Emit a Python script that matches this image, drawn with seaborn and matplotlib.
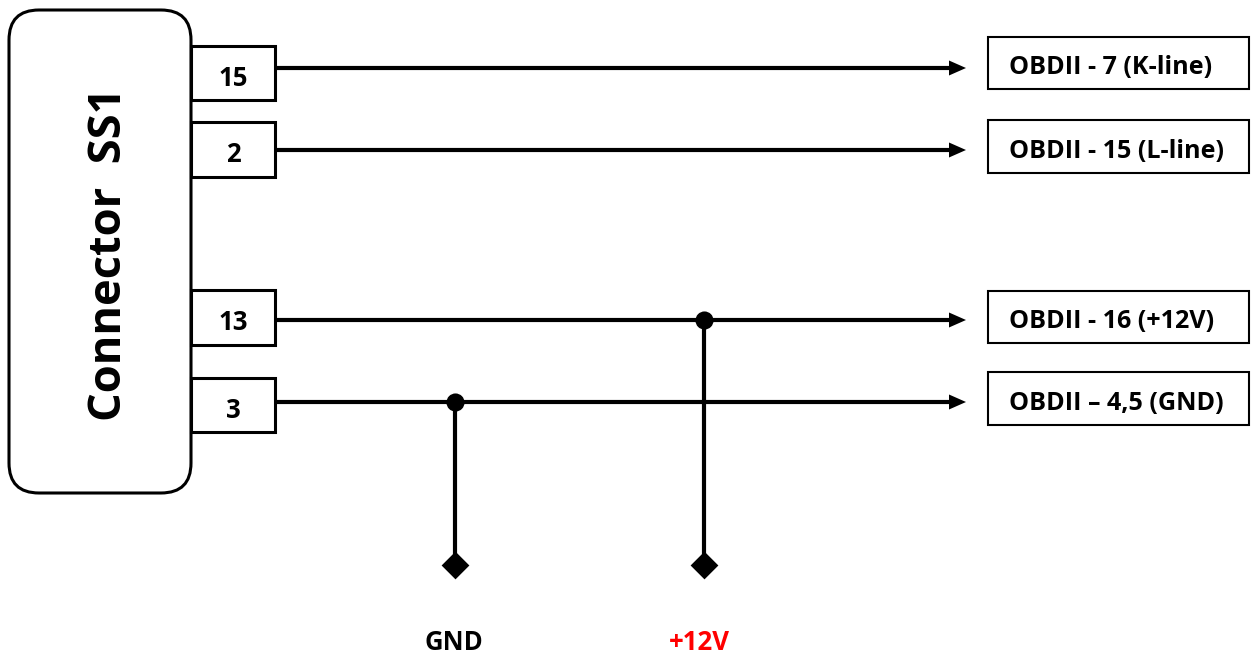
import pandas as pd
import matplotlib
matplotlib.use("Agg")
import matplotlib.pyplot as plt
from matplotlib.patches import FancyBboxPatch, Rectangle, Polygon
import seaborn as sns

# wiring diagram, values are in picture pixels
pin_labels = ["15", "2", "13", "3"]
pin_top = [46, 122, 290, 378]
pin_bottom = [100, 177, 345, 432]
wire_y = [68, 150, 320, 402]

target_labels = ["OBDII - 7 (K-line)", "OBDII - 15 (L-line)", "OBDII - 16 (+12V)", "OBDII \u2013 4,5 (GND)"]
target_top = [37, 120, 291, 372]
target_bottom = [89, 173, 343, 425]

tap_x = [455, 704]
tap_wire_y = [402, 320]
tap_end_y = [565, 565]
tap_labels = ["GND", "+12V"]
tap_label_x = [454, 699]
tap_colors = ["black", "#ff0000"]

sns.set_theme(style="white")
plt.rcParams["font.family"] = ["Open Sans", "DejaVu Sans"]

fig = plt.figure(figsize=(12.57, 6.55), dpi=100)
ax = fig.add_axes([0, 0, 1, 1])

# connector body
ax.add_patch(FancyBboxPatch((9, 10), 182, 483, boxstyle="round,pad=0,rounding_size=1",
                            mutation_scale=30, fc="white", ec="black", lw=2.2, zorder=2))

# horizontal wires
for y in wire_y:
    wire = pd.DataFrame({"x": [275, 952], "y": [y, y]})
    sns.lineplot(data=wire, x="x", y="y", color="black", lw=3, ax=ax, zorder=3,
                 estimator=None, sort=False)
    ax.add_patch(Polygon([[949, y - 7.5], [966, y], [949, y + 7.5]], fc="black", ec="none", zorder=3))

# taps going down to the diamonds
for x, y0, y1 in zip(tap_x, tap_wire_y, tap_end_y):
    tap = pd.DataFrame({"x": [x, x], "y": [y0, y1]})
    sns.lineplot(data=tap, x="x", y="y", color="black", lw=3, ax=ax, zorder=3,
                 estimator=None, sort=False)

dots = pd.DataFrame({"x": tap_x, "y": tap_wire_y})
sns.scatterplot(data=dots, x="x", y="y", color="black", s=170, linewidth=0, ax=ax, zorder=4)
ends = pd.DataFrame({"x": tap_x, "y": tap_end_y})
sns.scatterplot(data=ends, x="x", y="y", color="black", marker="D", s=200, linewidth=0, ax=ax, zorder=4)

# pin boxes
for label, top, bottom in zip(pin_labels, pin_top, pin_bottom):
    ax.add_patch(Rectangle((191, top), 84, bottom - top, fc="white", ec="black", lw=2.2, zorder=5))
    ax.text(233, (top + bottom) / 2 + 5, label, ha="center", va="center",
            fontsize=18.5, fontweight="bold", color="black", zorder=6)

# target boxes
for label, top, bottom in zip(target_labels, target_top, target_bottom):
    ax.add_patch(Rectangle((988, top), 261, bottom - top, fc="white", ec="black", lw=1.5, zorder=5))
    ax.text(1009, (top + bottom) / 2 + 5, label, ha="left", va="center",
            fontsize=18.1, fontweight="bold", color="black", zorder=6)

ax.text(110, 254, "Connector  SS1", rotation=90, ha="center", va="center",
        fontsize=32.6, fontweight="bold", color="black", zorder=6)

for label, x, c in zip(tap_labels, tap_label_x, tap_colors):
    ax.text(x, 643, label, ha="center", va="center", fontsize=18.5, fontweight="bold", color=c)

ax.set_xlim(0, 1257)
ax.set_ylim(655, 0)
ax.axis("off")
fig.savefig("out.png", dpi=100, facecolor="white")
